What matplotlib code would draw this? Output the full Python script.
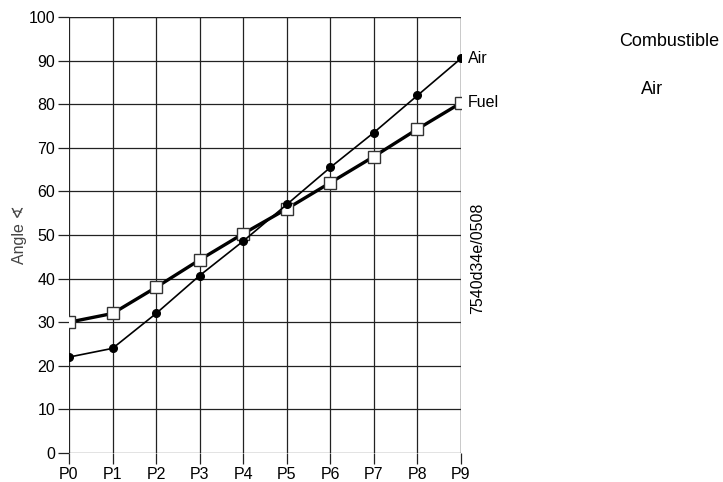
import matplotlib.pyplot as plt

plt.rcParams['font.family'] = ['Liberation Sans', 'DejaVu Sans']

positions = ["P0", "P1", "P2", "P3", "P4", "P5", "P6", "P7", "P8", "P9"]
air = [22, 24, 32, 40.7, 48.6, 57, 65.5, 73.5, 82, 90.5]
fuel = [30, 32, 38, 44.3, 50.3, 56, 62, 68, 74.3, 80.3]
y_ticks = list(range(0, 101, 10))

fig = plt.figure(figsize=(7.23, 4.82), dpi=100)
ax = fig.add_axes([69 / 723, 29 / 482, 392 / 723, 436 / 482])
x = list(range(len(positions)))

# fuel: thick line, open squares
ax.plot(x, fuel, color="black", lw=2.4, marker="s", ms=8.5,
        mfc="white", mec="#333333", mew=1.0, zorder=3)
# air: thin line, filled dots
ax.plot(x, air, color="black", lw=1.2, marker="o", ms=5.5,
        mfc="black", mec="black", zorder=4)

ax.set_xlim(0, 9)
ax.set_ylim(0, 100)
ax.set_xticks(x)
ax.set_xticklabels(positions)
ax.set_yticks(y_ticks)
ax.grid(True, color="#222222", lw=0.9)
for s in ax.spines.values():
    s.set_visible(False)
ax.axhline(100, color="#222222", lw=0.9)
ax.axvline(9, color="#222222", lw=0.9)
ax.tick_params(axis="both", length=8, width=0.9, color="#222222",
               labelsize=11.5, pad=2)
ax.set_ylabel("Angle \u2222", fontsize=11.5, color="#444444", labelpad=1)

ax.text(9.15, air[-1], "Air", fontsize=11.5, va="center", ha="left")
ax.text(9.15, fuel[-1], "Fuel", fontsize=11.5, va="center", ha="left")

fig.text(478 / 723, 1 - 258 / 482, "7540d34e/0508", rotation=90,
         fontsize=11.5, ha="center", va="center")
fig.text(669 / 723, 1 - 42 / 482, "Combustible", fontsize=13,
         ha="center", va="center")
fig.text(652 / 723, 1 - 90 / 482, "Air", fontsize=13,
         ha="center", va="center")

fig.savefig("out.png", dpi=100)
